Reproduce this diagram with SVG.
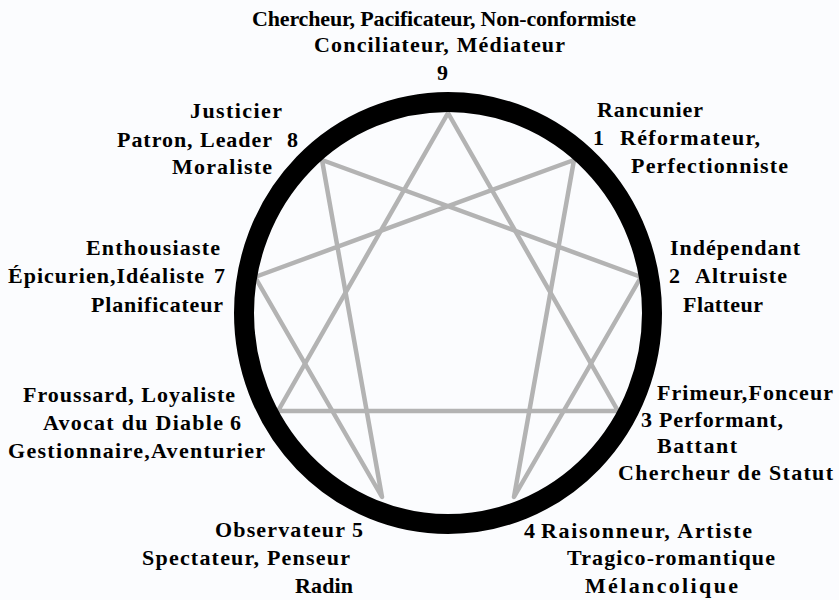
<svg xmlns="http://www.w3.org/2000/svg" width="839" height="600" viewBox="0 0 839 600">
<style>
text{font-family:"Liberation Serif","Times New Roman",serif;font-weight:bold;font-size:22px;fill:#000}
.ln{stroke:#b3b3b3;stroke-width:4.5;fill:none;stroke-linejoin:round;stroke-linecap:round}
</style>
<rect width="839" height="600" fill="#fbfcfe"/>
<g id="connectors">
<polygon class="ln" points="448,113 618,411 278,411"/>
<polygon class="ln" points="574,160 514,497 641,277 322,160 382,497 255,277"/>
</g>
<ellipse id="ring" cx="448" cy="313" rx="204" ry="211" fill="none" stroke="#000" stroke-width="20"/>
<g id="n9">
<text x="252" y="26" textLength="384">Chercheur, Pacificateur, Non-conformiste</text>
<text x="314" y="52" textLength="251">Conciliateur, Médiateur</text>
<text x="437" y="80">9</text>
</g>
<g id="n8">
<text x="190" y="118" textLength="92">Justicier</text>
<text y="147"><tspan x="117" textLength="155">Patron, Leader</tspan><tspan x="287">8</tspan></text>
<text x="172" y="174" textLength="100">Moraliste</text>
</g>
<g id="n1">
<text x="597" y="117" textLength="106">Rancunier</text>
<text y="145"><tspan x="593">1</tspan><tspan x="620" textLength="140">Réformateur,</tspan></text>
<text x="631" y="173" textLength="157">Perfectionniste</text>
</g>
<g id="n7">
<text x="86" y="255" textLength="134">Enthousiaste</text>
<text y="283"><tspan x="8" textLength="196">Épicurien,Idéaliste</tspan><tspan x="214">7</tspan></text>
<text x="91" y="312" textLength="132">Planificateur</text>
</g>
<g id="n2">
<text x="670" y="255" textLength="130">Indépendant</text>
<text y="283"><tspan x="669">2</tspan><tspan x="695" textLength="92">Altruiste</tspan></text>
<text x="683" y="312" textLength="80">Flatteur</text>
</g>
<g id="n6">
<text x="23" y="402" textLength="212">Froussard, Loyaliste</text>
<text y="430"><tspan x="43" textLength="180">Avocat du Diable</tspan><tspan x="230">6</tspan></text>
<text x="8" y="458" textLength="257">Gestionnaire,Aventurier</text>
</g>
<g id="n3">
<text x="657" y="400" textLength="176">Frimeur,Fonceur</text>
<text y="427"><tspan x="641">3</tspan><tspan x="659" textLength="124">Performant,</tspan></text>
<text x="657" y="453" textLength="80">Battant</text>
<text x="618" y="480" textLength="215">Chercheur de Statut</text>
</g>
<g id="n5">
<text y="537"><tspan x="215" textLength="130">Observateur</tspan><tspan x="352">5</tspan></text>
<text x="142" y="565" textLength="208">Spectateur, Penseur</text>
<text x="295" y="593" textLength="58">Radin</text>
</g>
<g id="n4">
<text y="538"><tspan x="524">4</tspan><tspan x="541" textLength="211">Raisonneur, Artiste</tspan></text>
<text x="567" y="565" textLength="208">Tragico-romantique</text>
<text x="585" y="593" textLength="153">Mélancolique</text>
</g>
</svg>
